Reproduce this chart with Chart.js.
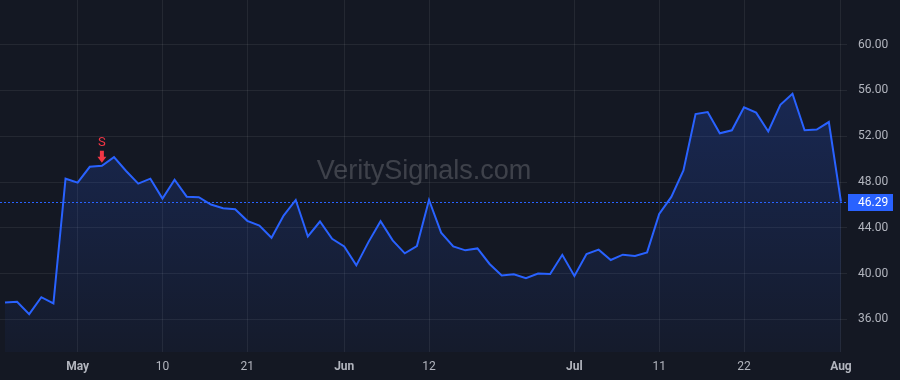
<!DOCTYPE html>
<html>
<head>
<meta charset="utf-8">
<script src="https://cdn.jsdelivr.net/npm/chart.js@4.4.1/dist/chart.umd.min.js"></script>
<style>
  html, body { margin: 0; padding: 0; background: #141823; }
  #wrap { width: 900px; height: 380px; position: relative; }
</style>
</head>
<body>
<div id="wrap"><canvas id="chart"></canvas></div>
<script>
// trading days, Apr 23 -> Aug 1
const dates = [
  'Apr 23','Apr 24','Apr 25','Apr 26','Apr 29','Apr 30',
  'May 1','May 2','May 3','May 6','May 7','May 8','May 9','May 10',
  'May 13','May 14','May 15','May 16','May 17','May 20','May 21',
  'May 22','May 23','May 24','May 28','May 29','May 30','May 31',
  'Jun 3','Jun 4','Jun 5','Jun 6','Jun 7','Jun 10','Jun 11','Jun 12',
  'Jun 13','Jun 14','Jun 17','Jun 18','Jun 20','Jun 21','Jun 24','Jun 25','Jun 26','Jun 27','Jun 28',
  'Jul 1','Jul 2','Jul 3','Jul 5','Jul 8','Jul 9','Jul 10','Jul 11',
  'Jul 12','Jul 15','Jul 16','Jul 17','Jul 18','Jul 19','Jul 22',
  'Jul 23','Jul 24','Jul 25','Jul 26','Jul 29','Jul 30','Jul 31','Aug 1'
];
const closes = [
  37.48, 37.54, 36.46, 37.94, 37.39, 48.29,
  47.94, 49.33, 49.42, 50.17, 48.96, 47.86, 48.29, 46.55,
  48.20, 46.72, 46.67, 46.03, 45.71, 45.62, 44.61,
  44.20, 43.13, 45.07, 46.43, 43.24, 44.55, 43.04,
  42.37, 40.72, 42.75, 44.58, 42.90, 41.77, 42.40, 46.43,
  43.57, 42.37, 42.03, 42.20, 40.84, 39.83, 39.94, 39.59, 40.00, 39.97, 41.64,
  39.79, 41.71, 42.09, 41.19, 41.65, 41.54, 41.85, 45.22,
  46.70, 49.01, 53.94, 54.11, 52.26, 52.52, 54.52,
  54.06, 52.41, 54.75, 55.71, 52.52, 52.58, 53.24, 46.29
];
const xTickIndex = [6, 13, 20, 28, 35, 47, 54, 61, 69];
const xTickLabels = ['May', '10', '21', 'Jun', '12', 'Jul', '11', '22', 'Aug'];
const monthLabels = ['May', 'Jun', 'Jul', 'Aug'];
const yTicks = [36, 40, 44, 48, 52, 56, 60];
const lastPrice = 46.29;
const signalIndex = 8;
const signalText = 'S';
const watermark = 'VeritySignals.com';

const BLUE = '#2962ff';
const RED = '#f23645';
const TXT = '#b2b5be';
const GRID = 'rgba(255,255,255,0.07)';
const FONT = 'Roboto, "Liberation Sans", sans-serif';

const extras = {
  id: 'extras',
  beforeDraw(chart) {
    const c = chart.ctx;
    c.save();
    c.fillStyle = '#141823';
    c.fillRect(0, 0, chart.width, chart.height);
    c.restore();
  },
  beforeDatasetsDraw(chart) {
    const c = chart.ctx;
    c.save();
    c.font = '27px "Liberation Sans", Arial, sans-serif';
    c.fillStyle = 'rgba(255,255,255,0.18)';
    c.textAlign = 'center';
    c.textBaseline = 'middle';
    c.fillText(watermark, 424, 172);
    c.restore();
  },
  afterDatasetsDraw(chart) {
    const c = chart.ctx, a = chart.chartArea;
    const xs = chart.scales.x, ys = chart.scales.y;
    const py = Math.round(ys.getPixelForValue(lastPrice)) + 0.5;
    c.save();
    // last price dotted line
    c.strokeStyle = BLUE;
    c.lineWidth = 1;
    c.setLineDash([2, 2]);
    c.beginPath();
    c.moveTo(a.left, py);
    c.lineTo(a.right, py);
    c.stroke();
    c.setLineDash([]);
    // price tag
    c.fillStyle = BLUE;
    c.fillRect(a.right + 1, py - 8.5, 45, 17);
    c.fillStyle = '#ffffff';
    c.font = '12px ' + FONT;
    c.textAlign = 'left';
    c.textBaseline = 'middle';
    c.fillText(lastPrice.toFixed(2), a.right + 11, py + 0.5);
    // sell marker
    const sx = xs.getPixelForValue(signalIndex);
    const sy = ys.getPixelForValue(closes[signalIndex]);
    c.fillStyle = RED;
    c.font = '13px ' + FONT;
    c.textAlign = 'center';
    c.fillText(signalText, sx, sy - 23);
    const tip = sy - 3;
    c.beginPath();
    c.moveTo(sx - 2, tip - 12);
    c.lineTo(sx + 2, tip - 12);
    c.lineTo(sx + 2, tip - 6);
    c.lineTo(sx + 4.5, tip - 6);
    c.lineTo(sx, tip);
    c.lineTo(sx - 4.5, tip - 6);
    c.lineTo(sx - 2, tip - 6);
    c.closePath();
    c.fill();
    c.restore();
  }
};

new Chart(document.getElementById('chart'), {
  type: 'line',
  data: {
    datasets: [{
      data: closes.map((v, i) => ({ x: i, y: v })),
      borderColor: BLUE,
      borderWidth: 2,
      pointRadius: 0,
      tension: 0,
      fill: 'start',
      backgroundColor(ctx) {
        const a = ctx.chart.chartArea;
        if (!a) return 'rgba(41,98,255,0.15)';
        const g = ctx.chart.ctx.createLinearGradient(0, a.top, 0, a.bottom);
        g.addColorStop(0, 'rgba(41,98,255,0.28)');
        g.addColorStop(1, 'rgba(41,98,255,0.04)');
        return g;
      }
    }]
  },
  options: {
    responsive: true,
    maintainAspectRatio: false,
    animation: false,
    layout: { padding: 0 },
    plugins: { legend: { display: false }, tooltip: { enabled: false } },
    scales: {
      x: {
        type: 'linear',
        min: -0.41,
        max: 69.5,
        afterFit(s) { s.height = 28; s.paddingLeft = 0; s.paddingRight = 0; },
        afterBuildTicks(s) { s.ticks = xTickIndex.map(v => ({ value: v })); },
        grid: { color: GRID, drawTicks: false },
        border: { display: false },
        ticks: {
          padding: 8,
          color: TXT,
          maxRotation: 0,
          autoSkip: false,
          font: ctx => ({
            family: FONT,
            size: 12,
            weight: ctx.tick && monthLabels.includes(xTickLabels[xTickIndex.indexOf(ctx.tick.value)]) ? 'bold' : 'normal'
          }),
          callback: v => xTickLabels[xTickIndex.indexOf(v)]
        }
      },
      y: {
        position: 'right',
        min: 33.15,
        max: 63.9,
        afterFit(s) { s.width = 53; s.paddingTop = 0; s.paddingBottom = 0; },
        afterBuildTicks(s) { s.ticks = yTicks.map(v => ({ value: v })); },
        grid: { color: GRID, drawTicks: false },
        border: { display: false },
        ticks: {
          padding: 11,
          color: TXT,
          font: { family: FONT, size: 12 },
          callback: v => v.toFixed(2)
        }
      }
    }
  },
  plugins: [extras]
});
</script>
</body>
</html>
